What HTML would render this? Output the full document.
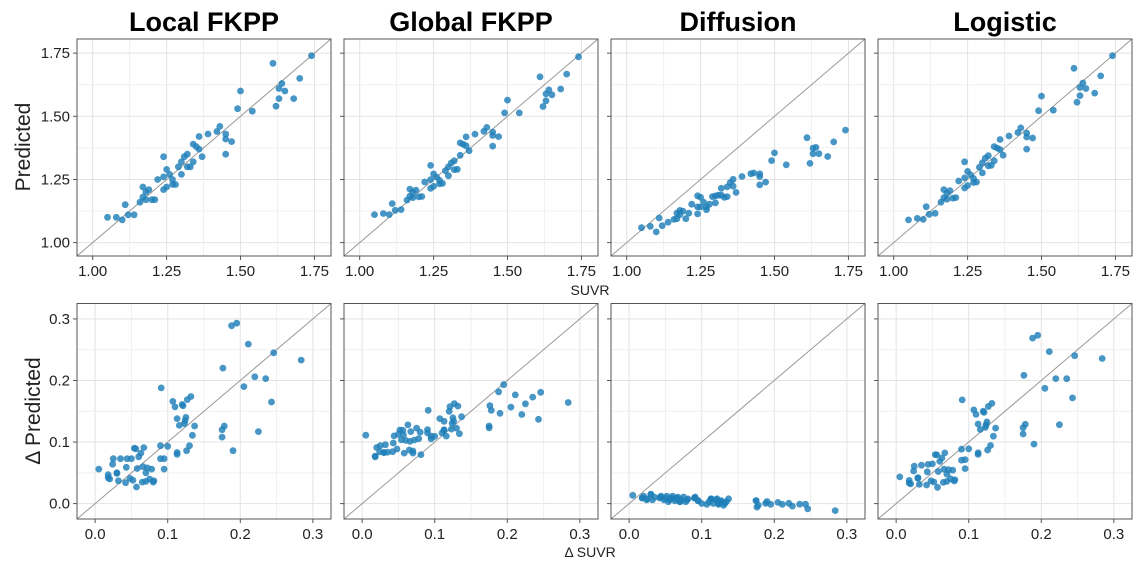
<!DOCTYPE html><html><head><meta charset="utf-8"><style>
body{margin:0;background:#fff;width:1147px;height:572px;overflow:hidden}
svg{display:block;font-family:"Liberation Sans",Arial,sans-serif}
</style></head><body>
<svg id="s" width="1147" height="572" xmlns="http://www.w3.org/2000/svg"></svg>
<script>
const S=document.getElementById('s');let h='';
const L=[[1.05,1.10],[1.08,1.10],[1.10,1.09],[1.11,1.15],[1.12,1.11],[1.14,1.11],[1.16,1.16],[1.17,1.18],[1.17,1.22],[1.18,1.20],[1.18,1.17],[1.19,1.21],[1.20,1.17],[1.21,1.17],[1.22,1.25],[1.24,1.21],[1.24,1.34],[1.24,1.26],[1.25,1.22],[1.25,1.29],[1.26,1.27],[1.27,1.25],[1.27,1.23],[1.28,1.23],[1.29,1.30],[1.30,1.32],[1.30,1.27],[1.31,1.34],[1.32,1.35],[1.32,1.30],[1.33,1.30],[1.34,1.32],[1.34,1.39],[1.35,1.38],[1.36,1.37],[1.36,1.42],[1.37,1.34],[1.39,1.43],[1.42,1.44],[1.43,1.46],[1.45,1.43],[1.45,1.41],[1.45,1.35],[1.47,1.40],[1.49,1.53],[1.50,1.60],[1.54,1.52],[1.61,1.71],[1.62,1.54],[1.63,1.57],[1.63,1.61],[1.64,1.63],[1.65,1.60],[1.68,1.57],[1.70,1.65],[1.74,1.74]];
const D=[[0.005,0.056],[0.018,0.047],[0.018,0.042],[0.02,0.040],[0.024,0.064],[0.025,0.073],[0.03,0.050],[0.03,0.049],[0.032,0.037],[0.035,0.073],[0.042,0.034],[0.043,0.059],[0.044,0.073],[0.048,0.041],[0.05,0.073],[0.052,0.038],[0.054,0.09],[0.056,0.089],[0.057,0.027],[0.058,0.057],[0.06,0.076],[0.063,0.082],[0.065,0.035],[0.066,0.06],[0.067,0.091],[0.07,0.036],[0.07,0.05],[0.072,0.058],[0.075,0.04],[0.078,0.056],[0.08,0.035],[0.081,0.037],[0.09,0.094],[0.091,0.188],[0.09,0.073],[0.095,0.073],[0.095,0.056],[0.1,0.093],[0.107,0.166],[0.11,0.157],[0.113,0.138],[0.113,0.083],[0.113,0.08],[0.116,0.127],[0.12,0.161],[0.121,0.159],[0.123,0.13],[0.124,0.135],[0.125,0.14],[0.126,0.086],[0.127,0.169],[0.13,0.094],[0.132,0.174],[0.134,0.111],[0.137,0.126],[0.175,0.12],[0.175,0.108],[0.176,0.22],[0.178,0.126],[0.188,0.289],[0.19,0.086],[0.195,0.293],[0.205,0.19],[0.211,0.259],[0.22,0.206],[0.225,0.117],[0.235,0.203],[0.243,0.165],[0.246,0.245],[0.284,0.233]];
const lefts=[77,344,611,878],W=254;
const titles=['Local FKPP','Global FKPP','Diffusion','Logistic'];
const tops=[{y0:39,y1:256,lo:0.947,hi:1.806,ticks:[1,1.25,1.5,1.75],fmt:v=>v.toFixed(2)},{y0:303.5,y1:519,lo:-0.025,hi:0.325,ticks:[0,0.1,0.2,0.3],fmt:v=>v.toFixed(1)}];
function nz(x,k){return ((x*k)%1)-0.5;}
function tf(r,p,x,y){
 const e=y-x;
 if(r==0){
  if(p==0)return[x,y];
  if(p==1)return[x,x+e*0.7+0.04*(1.35-x)+nz(x,97)*0.04];
  if(p==2)return[x,1+(x-1)*0.6+e*0.55+nz(x,71)*0.03];
  return[x,x+e*0.8];}
 if(p==0)return[x,y];
 if(p==1)return[x,0.08+0.4*x+e*0.25+nz(x,173)*0.045];
 if(p==2)return[x,0.012-0.07*x+nz(x,131)*0.012];
 return[x,x+e*0.85-0.005];
}
for(let r=0;r<2;r++){const R=tops[r],pts=r?D:L;
 for(let p=0;p<4;p++){const x0=lefts[p],x1=x0+W;
  const X=v=>x0+(v-R.lo)/(R.hi-R.lo)*W,Y=v=>R.y1-(v-R.lo)/(R.hi-R.lo)*(R.y1-R.y0);
  const st=R.ticks[1]-R.ticks[0];
  for(let k=-1;k<8;k++){const v=R.ticks[0]+k*st/2;if(v<R.lo||v>R.hi)continue;
   const c=k%2==0?'#e3e3e3':'#f0f0f0';
   h+=`<line x1="${X(v)}" x2="${X(v)}" y1="${R.y0}" y2="${R.y1}" stroke="${c}" stroke-width="1"/><line x1="${x0}" x2="${x1}" y1="${Y(v)}" y2="${Y(v)}" stroke="${c}" stroke-width="1"/>`;}
  h+=`<line x1="${x0}" y1="${R.y1}" x2="${x1}" y2="${R.y0}" stroke="#999" stroke-width="1"/>`;
  for(const [a,b] of pts){const q=tf(r,p,a,b);h+=`<circle cx="${X(q[0]).toFixed(1)}" cy="${Y(q[1]).toFixed(1)}" r="3.4" fill="#1f7fb8" fill-opacity="0.82"/>`;}
  h+=`<rect x="${x0}" y="${R.y0}" width="${W}" height="${R.y1-R.y0}" fill="none" stroke="#555" stroke-width="1"/>`;
  for(const t of R.ticks){h+=`<line x1="${X(t)}" x2="${X(t)}" y1="${R.y1}" y2="${R.y1+4}" stroke="#555"/><text x="${X(t)}" y="${R.y1+20}" font-size="15" text-anchor="middle" fill="#222">${R.fmt(t)}</text>`;
   h+=`<line x1="${x0-4}" x2="${x0}" y1="${Y(t)}" y2="${Y(t)}" stroke="#555"/>`;
   if(p==0)h+=`<text x="${x0-7}" y="${Y(t)+5}" font-size="15" text-anchor="end" fill="#222">${R.fmt(t)}</text>`;}
  if(r==0)h+=`<text x="${x0+W/2}" y="31" font-size="27" font-weight="bold" text-anchor="middle">${titles[p]}</text>`;
 }}
h+=`<text x="590" y="295" font-size="14" text-anchor="middle" fill="#222">SUVR</text>`;
h+=`<text x="590" y="557" font-size="14" text-anchor="middle" fill="#222">Δ SUVR</text>`;
h+=`<text transform="translate(30,147) rotate(-90)" font-size="21" text-anchor="middle" fill="#222">Predicted</text>`;
h+=`<text transform="translate(40,411) rotate(-90)" font-size="21" text-anchor="middle" fill="#222">Δ Predicted</text>`;
S.innerHTML=h;
</script></body></html>
